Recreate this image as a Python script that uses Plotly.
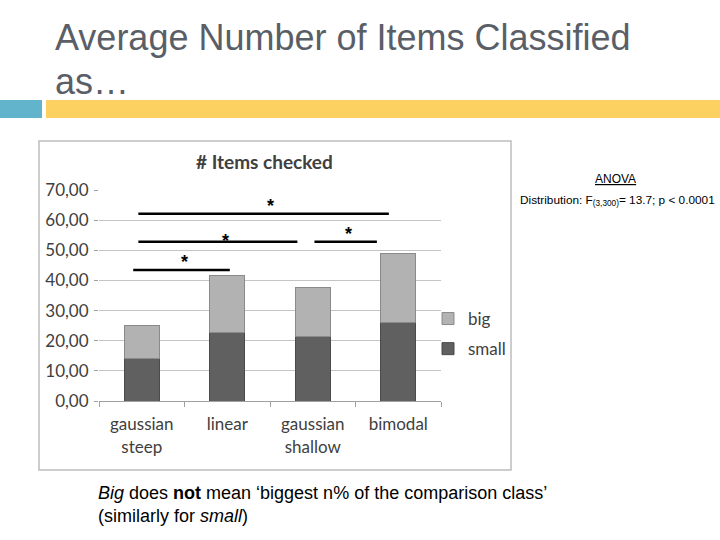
import plotly.graph_objects as go

# values (stacked: small at bottom, big on top)
categories = ["gaussian<br>steep", "linear", "gaussian<br>shallow", "bimodal"]
small_counts = [14.2, 22.8, 21.5, 26.0]
big_counts = [10.8, 18.7, 16.1, 23.1]
y_ticks = [0, 10, 20, 30, 40, 50, 60, 70]

# significance brackets: (start, end, height) in category / value units,
# and where each star sits (category x, value y)
sig_lines = [(-0.04, 2.89, 62.1), (-0.04, 1.82, 52.8), (2.02, 2.75, 52.8), (-0.1, 1.03, 43.5)]
sig_stars = [(1.5, 64.7), (0.98, 53.0), (2.42, 55.3), (0.5, 46.0)]

W, H = 720, 540
CHART_FONT = "Lato"


def px_x(v):
    return v / W


def px_y(v):
    return 1 - v / H


fig = go.Figure()
fig.add_trace(go.Bar(
    x=categories, y=small_counts, name="small", legendgroup="small", legendrank=2,
    marker=dict(color="#606060", line=dict(color="#4a4a4a", width=1)),
))
fig.add_trace(go.Bar(
    x=categories, y=big_counts, name="big", legendgroup="big", legendrank=1,
    marker=dict(color="#b2b2b2", line=dict(color="#8a8a8a", width=1)),
))

shapes = [
    # slide decoration bars
    dict(type="rect", xref="paper", yref="paper", x0=0, x1=px_x(42), y0=px_y(100), y1=px_y(118),
         fillcolor="#62b4cc", line_width=0, layer="below"),
    dict(type="rect", xref="paper", yref="paper", x0=px_x(46), x1=1, y0=px_y(100), y1=px_y(118),
         fillcolor="#fdd062", line_width=0, layer="below"),
    # chart frame
    dict(type="rect", xref="paper", yref="paper", x0=px_x(39), x1=px_x(511), y0=px_y(141), y1=px_y(470),
         fillcolor="white", line=dict(color="#bdbdbd", width=1.5), layer="below"),
]
for x0, x1, y in sig_lines:
    shapes.append(dict(type="line", xref="x", yref="y", x0=x0, x1=x1, y0=y, y1=y,
                       line=dict(color="black", width=2.5)))

annotations = [
    dict(text="Average Number of Items Classified", x=px_x(53), y=px_y(37), xanchor="left", yanchor="middle",
         font=dict(family="Liberation Sans", size=36, color="#5a5e66")),
    dict(text="as…", x=px_x(53), y=px_y(81), xanchor="left", yanchor="middle",
         font=dict(family="Liberation Sans", size=36, color="#5a5e66")),
    dict(text="<b># Items checked</b>", x=px_x(264), y=px_y(161), xanchor="center", yanchor="middle",
         font=dict(family=CHART_FONT, size=19, color="#404040")),
    dict(text="<u>ANOVA</u>", x=px_x(615), y=px_y(179), xanchor="center", yanchor="middle",
         font=dict(family="Liberation Sans", size=12, color="black")),
    dict(text="Distribution: F<sub>(3,300)</sub>= 13.7; p < 0.0001", x=px_x(518), y=px_y(200),
         xanchor="left", yanchor="middle", font=dict(family="Liberation Sans", size=11.8, color="black")),
    dict(text="<i>Big</i> does <b>not</b> mean ‘biggest n% of the comparison class’", x=px_x(96), y=px_y(493),
         xanchor="left", yanchor="middle", font=dict(family="Liberation Sans", size=18, color="black")),
    dict(text="(similarly for <i>small</i>)", x=px_x(96), y=px_y(516),
         xanchor="left", yanchor="middle", font=dict(family="Liberation Sans", size=18, color="black")),
]
for x, y in sig_stars:
    annotations.append(dict(text="<b>*</b>", x=x, y=y, xref="x", yref="y", showarrow=False,
                            xanchor="center", yanchor="middle",
                            font=dict(family="Liberation Sans", size=18, color="black")))
for a in annotations:
    a.setdefault("xref", "paper")
    a.setdefault("yref", "paper")
    a.setdefault("showarrow", False)

fig.update_layout(
    width=W, height=H,
    margin=dict(l=0, r=0, t=0, b=0, autoexpand=False),
    paper_bgcolor="white",
    plot_bgcolor="#e6e6e6",
    barmode="stack",
    bargap=0.59,
    separators=",.",
    showlegend=True,
    legend=dict(x=px_x(428), y=px_y(301), xanchor="left", yanchor="top",
                traceorder="grouped", tracegroupgap=5,
                font=dict(family=CHART_FONT, size=17, color="#404040"),
                bgcolor="rgba(0,0,0,0)", itemwidth=30),
    shapes=shapes,
    annotations=annotations,
    xaxis=dict(domain=[px_x(99), px_x(441)], range=[-0.5, 3.5], type="category", automargin=False,
               showline=True, linecolor="#a0a0a0", linewidth=1,
               ticks="outside", tickson="boundaries", ticklen=5, tickcolor="#a0a0a0", ticklabelstandoff=8,
               tickfont=dict(family=CHART_FONT, size=17, color="#404040"), showgrid=False),
    yaxis=dict(domain=[px_y(401), px_y(190)], range=[0, 70], tickvals=y_ticks, tickformat=".2f",
               automargin=False, ticklabelstandoff=2,
               showgrid=True, gridcolor="#c4c4c4", gridwidth=1, zeroline=False,
               ticks="outside", ticklen=4, tickcolor="#a0a0a0",
               tickfont=dict(family=CHART_FONT, size=17, color="#404040")),
)

fig.write_html("out.html", config={"displayModeBar": False},
               post_script="document.body.style.margin = '0';")
